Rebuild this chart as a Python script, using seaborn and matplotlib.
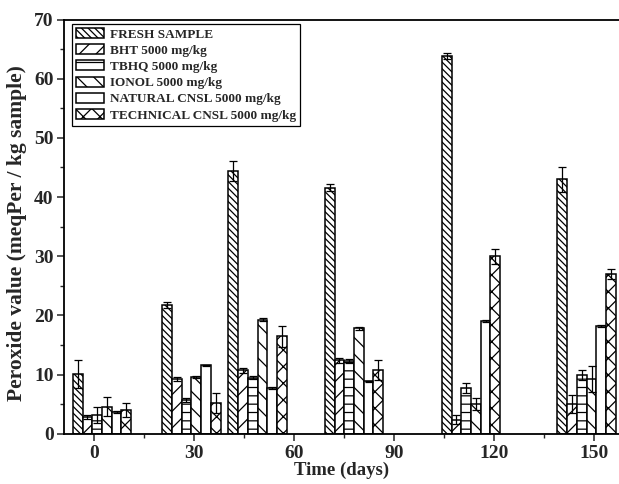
import numpy as np
import pandas as pd
import matplotlib
matplotlib.use("Agg")
import matplotlib.pyplot as plt
import seaborn as sns
from matplotlib.ticker import MultipleLocator

# ---- data ----
day_positions = [2.4, 29.2, 49.1, 78.0, 113.1, 147.8]
treatments = ["FRESH SAMPLE", "BHT 5000 mg/kg", "TBHQ 5000 mg/kg",
              "IONOL 5000 mg/kg", "NATURAL CNSL 5000 mg/kg",
              "TECHNICAL CNSL 5000 mg/kg"]

fresh_vals = [10.1, 21.8, 44.4, 41.6, 63.8, 43.0]
fresh_err = [2.3, 0.5, 1.7, 0.6, 0.5, 2.1]
bht_vals = [2.8, 9.2, 10.7, 12.4, 2.4, 5.0]
bht_err = [0.3, 0.35, 0.45, 0.45, 0.8, 1.5]
tbhq_vals = [3.2, 5.75, 9.5, 12.3, 7.7, 9.9]
tbhq_err = [1.3, 0.3, 0.25, 0.3, 0.85, 0.8]
ionol_vals = [4.6, 9.6, 19.3, 17.8, 5.0, 9.2]
ionol_err = [1.6, 0.2, 0.2, 0.25, 1.0, 2.2]
natural_vals = [3.65, 11.55, 7.8, 8.85, 19.0, 18.15]
natural_err = [0.15, 0.15, 0.15, 0.15, 0.15, 0.15]
technical_vals = [4.0, 5.2, 16.45, 10.8, 30.0, 27.0]
technical_err = [1.2, 1.7, 1.7, 1.7, 1.3, 0.85]

x_ticks = [0, 30, 60, 90, 120, 150]
y_ticks = [0, 10, 20, 30, 40, 50, 60, 70]

all_vals = [fresh_vals, bht_vals, tbhq_vals, ionol_vals, natural_vals, technical_vals]
all_errs = [fresh_err, bht_err, tbhq_err, ionol_err, natural_err, technical_err]

rows = []
for t, vals in zip(treatments, all_vals):
    for d, v in zip(day_positions, vals):
        rows.append({"day": d, "value": v, "treatment": t})
df = pd.DataFrame(rows)

# ---- style ----
sns.set_style("ticks")
plt.rcParams["font.family"] = ["Liberation Serif", "DejaVu Serif"]
plt.rcParams["font.weight"] = "bold"
plt.rcParams["axes.labelweight"] = "bold"
plt.rcParams["hatch.linewidth"] = 0.9
plt.rcParams["hatch.color"] = "black"

W, H = 619, 484
fig = plt.figure(figsize=(W / 100, H / 100), dpi=100)
fig.patch.set_facecolor("white")
ax = fig.add_axes([64 / W, (H - 433.8) / H, (W - 64) / W, (433.8 - 19.5) / H])

sns.barplot(data=df, x="day", y="value", hue="treatment", hue_order=treatments,
            native_scale=True, width=0.88, errorbar=None,
            palette=["white"] * len(treatments), edgecolor="black",
            linewidth=1.1, saturation=1, legend=False, ax=ax)

hatches = ["\\" * 5, "//", "--", "\\\\", "", "xx"]
for cont, h, errs in zip(ax.containers, hatches, all_errs):
    xs, ys = [], []
    for p in cont.patches:
        p.set_hatch(h)
        p.set_edgecolor("black")
        xs.append(p.get_x() + p.get_width() / 2)
        ys.append(p.get_height())
    ax.errorbar(xs, ys, yerr=errs, fmt="none", ecolor="black",
                elinewidth=0.9, capsize=2.6, capthick=0.9, zorder=5)

leg = ax.legend(handles=list(ax.containers), labels=treatments,
                loc="upper left", bbox_to_anchor=(0.0144, 0.989),
                borderaxespad=0, frameon=True, fancybox=False,
                edgecolor="black", framealpha=1,
                handlelength=2.1, handleheight=0.8, handletextpad=0.45,
                labelspacing=0.27, borderpad=0.3,
                prop={"family": "Liberation Serif", "weight": "bold", "size": 9.5})
leg.get_frame().set_linewidth(0.9)

ax.set_xlim(-9.0, 157.5)
ax.set_ylim(0, 70)
ax.set_xticks(x_ticks)
ax.set_xticklabels([str(t) for t in x_ticks])
ax.set_yticks(y_ticks)
ax.xaxis.set_minor_locator(MultipleLocator(15))
ax.yaxis.set_minor_locator(MultipleLocator(5))
ax.tick_params(axis="both", which="major", direction="out", length=5, width=1.1,
               labelsize=14)
ax.tick_params(axis="both", which="minor", direction="out", length=3, width=1.0)
ax.tick_params(axis="x", which="major", pad=3)
ax.tick_params(axis="y", which="major", pad=2.5)
ax.tick_params(top=False, right=False, which="both")

for s in ["left", "bottom", "top"]:
    ax.spines[s].set_linewidth(1.3)
    ax.spines[s].set_color("black")
ax.spines["right"].set_visible(False)

ax.set_xlabel("Time (days)", fontsize=13.5, fontweight="bold", labelpad=0)
ax.set_ylabel("Peroxide value (meqPer / kg sample)", fontsize=15.5,
              fontweight="bold")
ax.yaxis.set_label_coords(-0.066, 0.485)

fig.savefig("out.png", dpi=100, facecolor="white")
